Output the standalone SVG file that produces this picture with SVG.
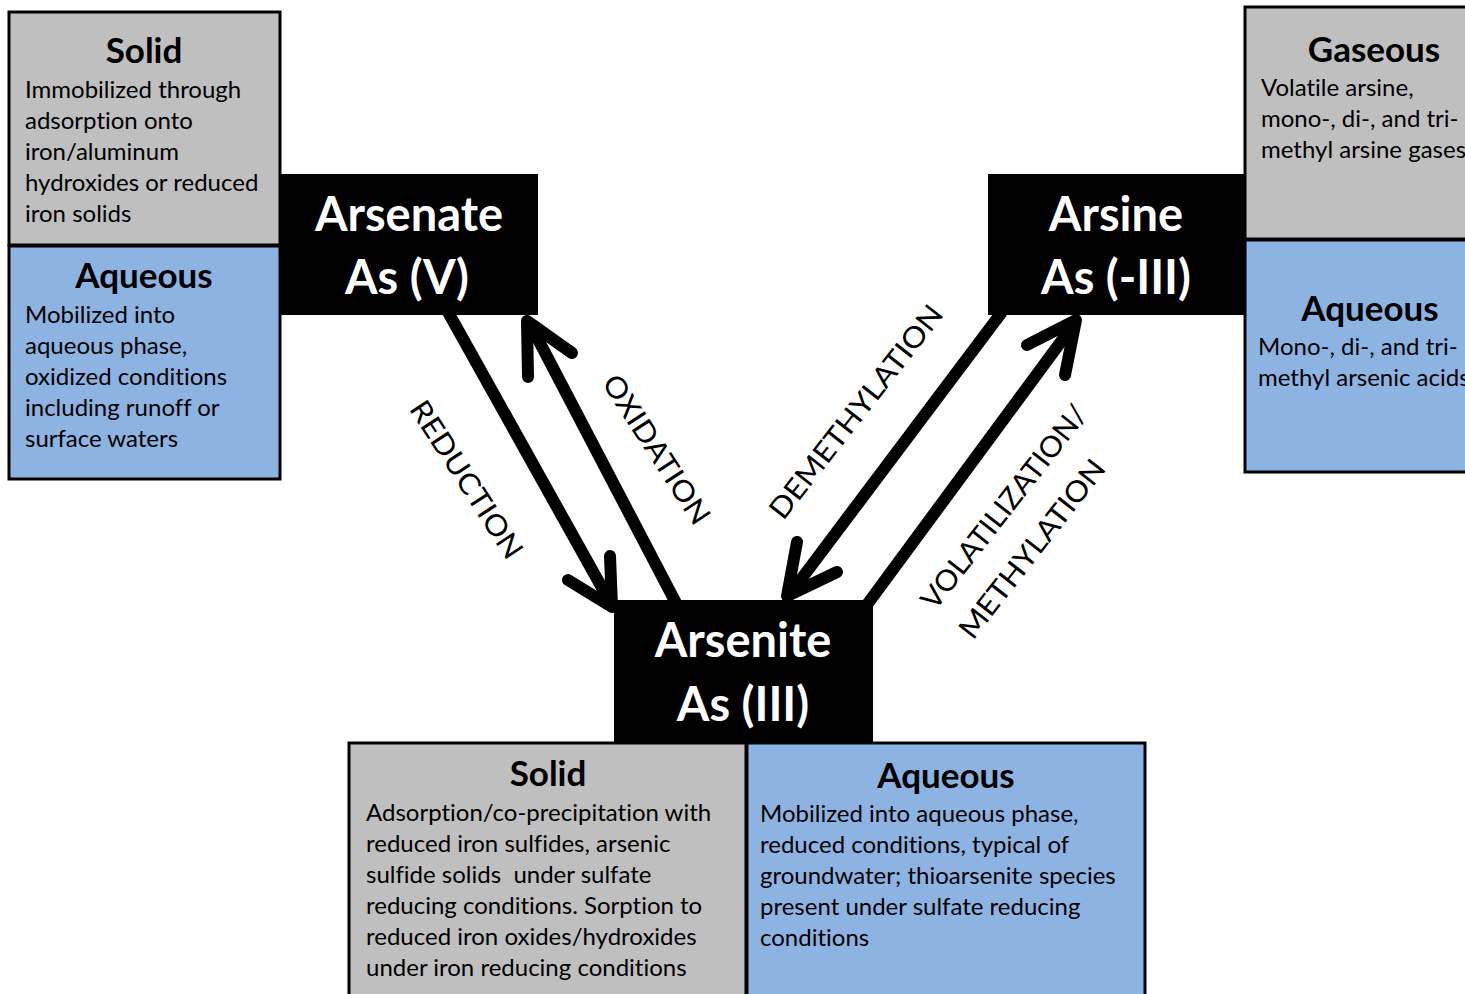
<svg xmlns="http://www.w3.org/2000/svg" width="1465" height="994" viewBox="0 0 1465 994">
<style>
text{font-variant-ligatures:none}
.solid{fill:#BFBFBF;stroke:#000;stroke-width:3}
.aq{fill:#8DB3E2;stroke:#000;stroke-width:3}
.sp{fill:#000}
.h{font-family:Lato,"Open Sans",sans-serif;font-weight:bold;font-size:35px;fill:#000;text-anchor:middle}
.b{font-family:Lato,"Open Sans",sans-serif;font-size:24px;fill:#000}
.big{font-family:Lato,"Open Sans",sans-serif;font-weight:bold;font-size:47px;fill:#fff;text-anchor:middle}
.lbl{font-family:Lato,"Open Sans",sans-serif;font-size:29px;fill:#000;text-anchor:middle}
.arr{fill:none;stroke:#000;stroke-width:12;stroke-linecap:round;stroke-linejoin:round}
.ln{fill:none;stroke:#000;stroke-width:12}
</style>
<rect width="1465" height="994" fill="#fff"/>
<g id="connectors">
<path class="ln" d="M448,312 L610,602"/>
<path class="arr" d="M568,580 L612,607 L610,556"/>
<path class="ln" d="M676,603 L530,324"/>
<path class="arr" d="M528,377 L527,321 L572,353"/>
<path class="ln" d="M1002,312 L790,594"/>
<path class="arr" d="M797,542 L787,596 L837,572"/>
<path class="ln" d="M866,606 L1074,324"/>
<path class="arr" d="M1027,345 L1076,320 L1065,375"/>
<text class="lbl" transform="translate(458,485) rotate(57)" textLength="182" lengthAdjust="spacingAndGlyphs">REDUCTION</text>
<text class="lbl" transform="translate(648,455) rotate(57)" textLength="172" lengthAdjust="spacingAndGlyphs">OXIDATION</text>
<text class="lbl" transform="translate(864,418) rotate(-52)" textLength="262" lengthAdjust="spacingAndGlyphs">DEMETHYLATION</text>
<text class="lbl" transform="translate(1012,513) rotate(-52)" textLength="250" lengthAdjust="spacingAndGlyphs">VOLATILIZATION/</text>
<text class="lbl" transform="translate(1040,555) rotate(-52)" textLength="218" lengthAdjust="spacingAndGlyphs">METHYLATION</text>
</g>
<g id="arsenate-solid">
<rect class="solid" x="9" y="12" width="271" height="233"/>
<text class="h" x="144" y="63">Solid</text>
<text class="b" x="25" y="98">Immobilized through</text>
<text class="b" x="25" y="129">adsorption onto</text>
<text class="b" x="25" y="160">iron/aluminum</text>
<text class="b" x="25" y="191">hydroxides or reduced</text>
<text class="b" x="25" y="222">iron solids</text>
</g>
<g id="arsenate-aqueous">
<rect class="aq" x="9" y="246" width="271" height="233"/>
<text class="h" x="144" y="288">Aqueous</text>
<text class="b" x="25" y="323">Mobilized into</text>
<text class="b" x="25" y="354">aqueous phase,</text>
<text class="b" x="25" y="385">oxidized conditions</text>
<text class="b" x="25" y="416">including runoff or</text>
<text class="b" x="25" y="447">surface waters</text>
</g>
<g id="arsenate">
<rect class="sp" x="280" y="174" width="258" height="141"/>
<text class="big" x="409" y="231">Arsenate</text>
<text class="big" x="407" y="294">As (V)</text>
</g>
<g id="arsine-gaseous">
<rect class="solid" x="1245" y="7" width="240" height="232"/>
<text class="h" x="1374" y="62">Gaseous</text>
<text class="b" x="1261" y="96">Volatile arsine,</text>
<text class="b" x="1261" y="127">mono-, di-, and tri-</text>
<text class="b" x="1261" y="158">methyl arsine gases</text>
</g>
<g id="arsine-aqueous">
<rect class="aq" x="1245" y="240" width="240" height="232"/>
<text class="h" x="1370" y="321">Aqueous</text>
<text class="b" x="1258" y="355">Mono-, di-, and tri-</text>
<text class="b" x="1258" y="386">methyl arsenic acids</text>
</g>
<g id="arsine">
<rect class="sp" x="988" y="174" width="257" height="141"/>
<text class="big" x="1116" y="231">Arsine</text>
<text class="big" x="1116" y="294">As (-III)</text>
</g>
<g id="arsenite">
<rect class="sp" x="614" y="600" width="259" height="142"/>
<text class="big" x="743" y="657">Arsenite</text>
<text class="big" x="743" y="721">As (III)</text>
</g>
<g id="arsenite-solid">
<rect class="solid" x="349" y="743" width="397" height="260"/>
<text class="h" x="548" y="786">Solid</text>
<text class="b" x="366" y="821">Adsorption/co-precipitation with</text>
<text class="b" x="366" y="852">reduced iron sulfides, arsenic</text>
<text class="b" x="366" y="883" style="white-space:pre">sulfide solids  under sulfate</text>
<text class="b" x="366" y="914">reducing conditions. Sorption to</text>
<text class="b" x="366" y="945">reduced iron oxides/hydroxides</text>
<text class="b" x="366" y="976">under iron reducing conditions</text>
</g>
<g id="arsenite-aqueous">
<rect class="aq" x="747" y="743" width="398" height="260"/>
<text class="h" x="946" y="788">Aqueous</text>
<text class="b" x="760" y="822">Mobilized into aqueous phase,</text>
<text class="b" x="760" y="853">reduced conditions, typical of</text>
<text class="b" x="760" y="884">groundwater; thioarsenite species</text>
<text class="b" x="760" y="915">present under sulfate reducing</text>
<text class="b" x="760" y="946">conditions</text>
</g>
</svg>
